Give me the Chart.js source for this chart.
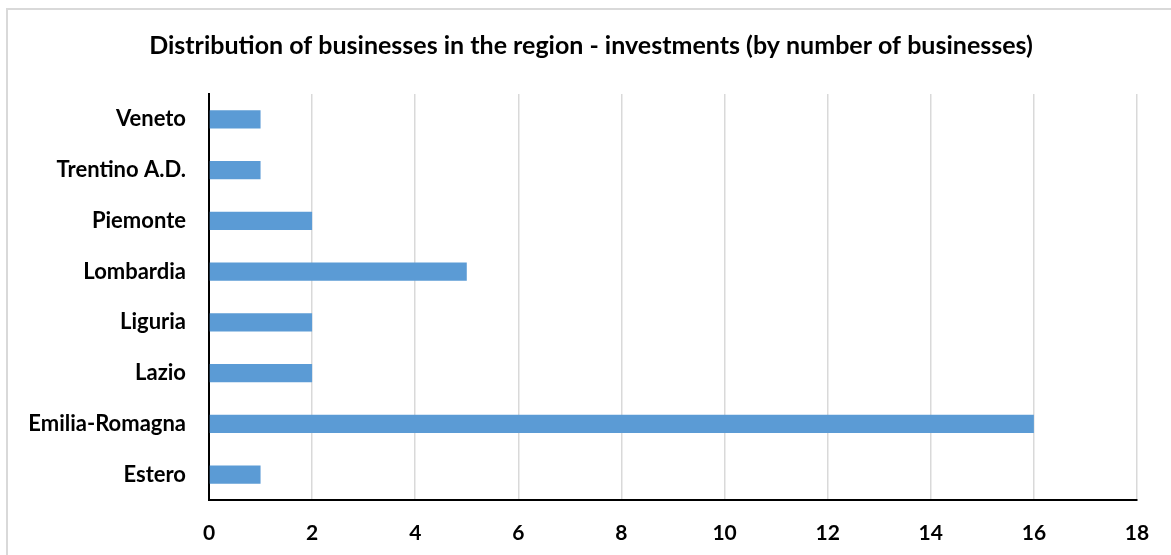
<!DOCTYPE html>
<html>
<head>
<meta charset="utf-8">
<script src="https://cdn.jsdelivr.net/npm/chart.js@4.4.0/dist/chart.umd.min.js"></script>
<style>
  html, body { margin: 0; padding: 0; background: #ffffff; }
  #wrap { width: 1171px; height: 555px; position: relative; }
</style>
</head>
<body>
<div id="wrap"><canvas id="c" width="1171" height="555"></canvas></div>
<script>
const titleText = "Distribution of businesses in the region - investments (by number of businesses)";
const categories = ["Veneto", "Trentino A.D.", "Piemonte", "Lombardia", "Liguria", "Lazio", "Emilia-Romagna", "Estero"];
const businessCounts = [1, 1, 2, 5, 2, 2, 16, 1];
const xTicks = [0, 2, 4, 6, 8, 10, 12, 14, 16, 18];

const FONT = "Lato, 'Liberation Sans', sans-serif";

const frameAndTitle = {
  id: 'frameAndTitle',
  beforeDraw(chart) {
    const ctx = chart.ctx;
    ctx.save();
    ctx.fillStyle = '#ffffff';
    ctx.fillRect(0, 0, chart.width, chart.height);
    ctx.strokeStyle = '#D9D9D9';
    ctx.lineWidth = 2;
    ctx.strokeRect(7, 9, 1200, 600);
    ctx.restore();
  },
  afterDraw(chart) {
    const ctx = chart.ctx;
    ctx.save();
    ctx.fillStyle = '#000000';
    ctx.font = "bold 25px " + FONT;
    ctx.textAlign = 'center';
    ctx.textBaseline = 'alphabetic';
    ctx.fillText(titleText, 591, 54);
    ctx.restore();
  }
};

new Chart(document.getElementById('c'), {
  type: 'bar',
  data: {
    labels: categories,
    datasets: [{
      data: businessCounts,
      backgroundColor: '#5B9BD5',
      borderWidth: 0,
      categoryPercentage: 1.0,
      barPercentage: 0.355
    }]
  },
  options: {
    indexAxis: 'y',
    responsive: false,
    animation: false,
    devicePixelRatio: 1,
    layout: { padding: { top: 94, right: 34, left: 0, bottom: 0 } },
    plugins: {
      legend: { display: false },
      title: { display: false },
      tooltip: { enabled: false }
    },
    scales: {
      x: {
        min: 0,
        max: 18,
        afterBuildTicks(axis) { axis.ticks = xTicks.map(v => ({ value: v })); },
        afterFit(axis) { axis.height = 55; },
        grid: { color: '#D9D9D9', lineWidth: 1.5, drawTicks: false },
        border: { color: '#000000', width: 2 },
        ticks: {
          color: '#000000',
          padding: 21,
          font: { family: FONT, size: 21, weight: 'bold' },
          maxRotation: 0
        }
      },
      y: {
        afterFit(axis) { axis.width = 209; },
        grid: { display: false, drawTicks: false },
        border: { color: '#000000', width: 2 },
        ticks: {
          color: '#000000',
          padding: 23,
          font: { family: FONT, size: 22, weight: 'bold' }
        }
      }
    }
  },
  plugins: [frameAndTitle]
});
</script>
</body>
</html>
